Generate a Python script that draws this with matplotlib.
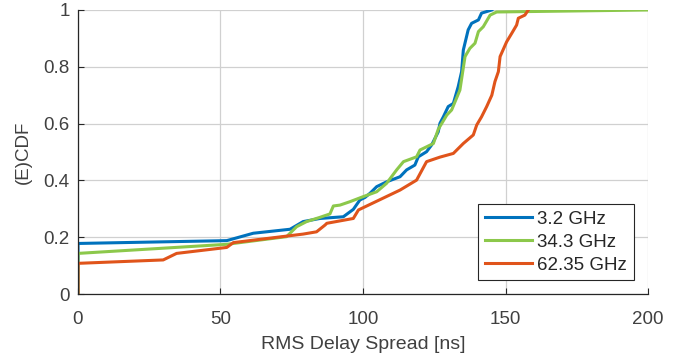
import numpy as np
import matplotlib.pyplot as plt

plt.rcParams['font.family'] = ['Liberation Sans', 'DejaVu Sans']

# RMS delay spread [ns] vs (E)CDF
x_32 = [0, 0, 52.2, 61.5, 74.4, 79.0, 84.9, 93.1, 96.6, 98.9, 100.7, 102.5,
        104.8, 108.3, 113.0, 115.3, 118.2, 119.4, 122.3, 124.1, 126.4, 127.0,
        128.2, 129.9, 131.7, 133.4, 134.6, 135.2, 136.9, 138.1, 140.5, 141.6,
        145.2]
y_32 = [0, 0.178, 0.188, 0.214, 0.228, 0.255, 0.266, 0.272, 0.298, 0.331,
        0.340, 0.355, 0.378, 0.395, 0.413, 0.437, 0.454, 0.483, 0.501, 0.525,
        0.571, 0.601, 0.624, 0.660, 0.671, 0.730, 0.783, 0.859, 0.930, 0.953,
        0.965, 0.989, 1.0]

x_343 = [0, 0, 52.2, 73.2, 76.7, 80.2, 84.9, 88.4, 89.6, 91.9, 95.4, 100.1,
         104.8, 108.3, 111.8, 114.2, 118.8, 120.0, 124.7, 126.4, 129.4, 131.1,
         134.0, 135.8, 137.5, 139.3, 140.5, 142.2, 144.6, 146.9, 200.0]
y_343 = [0, 0.143, 0.175, 0.202, 0.237, 0.255, 0.270, 0.282, 0.310, 0.313,
         0.325, 0.343, 0.360, 0.390, 0.437, 0.466, 0.483, 0.507, 0.530, 0.580,
         0.630, 0.648, 0.718, 0.836, 0.865, 0.883, 0.924, 0.941, 0.982, 0.993,
         1.0]

x_6235 = [0, 0, 29.9, 34.6, 52.2, 54.5, 79.0, 83.7, 86.7, 87.3, 96.6, 98.4,
          113.0, 118.8, 122.3, 127.0, 131.7, 135.2, 138.7, 139.9, 141.6, 143.4,
          145.2, 146.3, 147.5, 148.1, 150.4, 152.2, 153.9, 154.5, 156.8, 158.0]
y_6235 = [0, 0.108, 0.120, 0.143, 0.164, 0.181, 0.211, 0.219, 0.243, 0.249,
          0.266, 0.296, 0.366, 0.401, 0.466, 0.482, 0.495, 0.530, 0.560, 0.595,
          0.624, 0.660, 0.700, 0.748, 0.783, 0.836, 0.888, 0.918, 0.947, 0.971,
          0.982, 1.0]

series = [
    (x_32, y_32, "3.2 GHz", "#0072BD"),
    (x_343, y_343, "34.3 GHz", "#8CC84B"),
    (x_6235, y_6235, "62.35 GHz", "#E0541B"),
]

fig = plt.figure(figsize=(6.89, 3.62), dpi=100)
ax = fig.add_axes([0.1132, 0.1878, 0.8273, 0.7846])

for xs, ys, lbl, c in series:
    ax.plot(xs, ys, color=c, lw=2.2, label=lbl)

ax.set_xlim(0, 200)
ax.set_ylim(0, 1)
ax.set_xticks([0, 50, 100, 150, 200])
ax.set_yticks([0, 0.2, 0.4, 0.6, 0.8, 1])
ax.set_yticklabels(["0", "0.2", "0.4", "0.6", "0.8", "1"])
ax.grid(True, color="#d0d0d0", lw=0.9)
ax.set_axisbelow(True)

for s in ["top", "right"]:
    ax.spines[s].set_visible(False)
for s in ["left", "bottom"]:
    ax.spines[s].set_color("#262626")
    ax.spines[s].set_linewidth(0.9)

ax.tick_params(direction="in", length=4, width=0.8, colors="#262626",
               labelcolor="#404040", labelsize=13.5)
ax.tick_params(axis="x", pad=12)
ax.tick_params(axis="y", pad=6)
ax.set_xlabel("RMS Delay Spread [ns]", fontsize=14, color="#404040", labelpad=6)
ax.set_ylabel("(E)CDF", fontsize=13.5, color="#404040", labelpad=8)

leg = ax.legend(loc="lower right", bbox_to_anchor=(0.975, 0.049), fontsize=13.5,
                fancybox=False, framealpha=1, edgecolor="#262626",
                handlelength=2.5, handletextpad=0.3, borderpad=0.35,
                labelspacing=0.3, borderaxespad=0)
leg.get_frame().set_linewidth(0.8)
for t in leg.get_texts():
    t.set_color("#262626")

fig.savefig("out.png", dpi=100)
